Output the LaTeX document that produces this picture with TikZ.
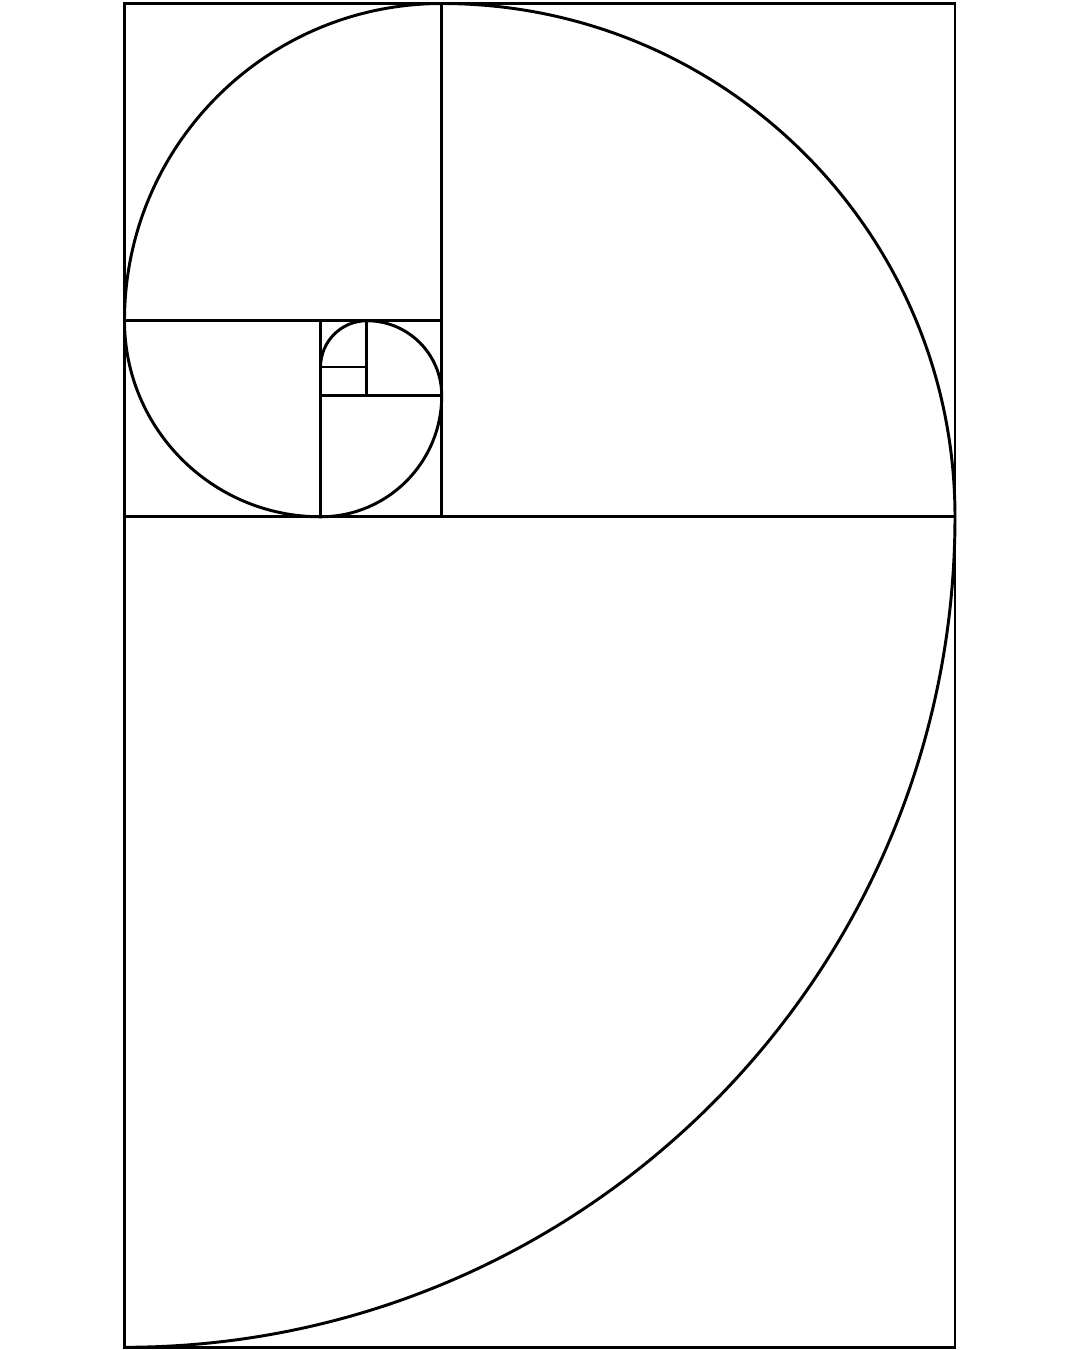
\documentclass[tikz,border=0pt]{standalone}
\begin{document}
\begin{tikzpicture}[x=0.025cm,y=0.025cm,
  frame/.style={line width=2.1pt,black,line join=miter},
  spiral/.style={line width=2.1pt,black,line cap=round}]
\useasboundingbox (0,0) rectangle (1080,1350);
\pgfmathsetmacro{\L}{124.5}
\pgfmathsetmacro{\R}{955}
\pgfmathsetmacro{\Bt}{2.7}
\pgfmathsetmacro{\a}{\R-\L}
\pgfmathsetmacro{\ph}{1.6180339887}
\pgfmathsetmacro{\sB}{\a/\ph}
\pgfmathsetmacro{\sC}{\sB/\ph}
\pgfmathsetmacro{\sD}{\sC/\ph}
\pgfmathsetmacro{\sE}{\sD/\ph}
\pgfmathsetmacro{\sF}{\sE/\ph}
\pgfmathsetmacro{\sG}{\sF/\ph}
\pgfmathsetmacro{\Tp}{\Bt+\a+\sB}
\pgfmathsetmacro{\yA}{\Bt+\a}
\pgfmathsetmacro{\xA}{\R-\sB}
\pgfmathsetmacro{\yB}{\Tp-\sC}
\pgfmathsetmacro{\xB}{\L+\sD}
\pgfmathsetmacro{\yC}{\yA+\sE}
\pgfmathsetmacro{\xC}{\xA-\sF}
\pgfmathsetmacro{\yD}{\yB-\sG}
% frame and square divisions
\draw[frame] (\L,\Bt) rectangle (\R,\Tp);
\draw[frame] (\L,\yA) -- (\R,\yA);
\draw[frame] (\xA,\yA) -- (\xA,\Tp);
\draw[frame] (\L,\yB) -- (\xA,\yB);
\draw[frame] (\xB,\yA) -- (\xB,\yB);
\draw[frame] (\xB,\yC) -- (\xA,\yC);
\draw[frame] (\xC,\yC) -- (\xC,\yB);
\draw[frame] (\xB,\yD) -- (\xC,\yD);
% spiral
\draw[spiral] (\L,\Bt)
  arc[start angle=270,end angle=360,radius=\a]
  arc[start angle=0,end angle=90,radius=\sB]
  arc[start angle=90,end angle=180,radius=\sC]
  arc[start angle=180,end angle=270,radius=\sD]
  arc[start angle=270,end angle=360,radius=\sE]
  arc[start angle=0,end angle=90,radius=\sF]
  arc[start angle=90,end angle=180,radius=\sG];
\end{tikzpicture}
\end{document}
